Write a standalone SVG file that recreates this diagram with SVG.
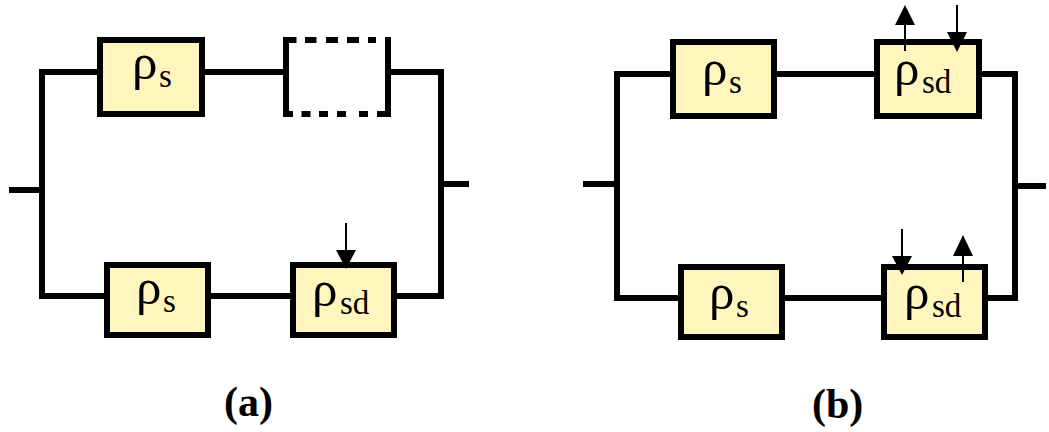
<svg xmlns="http://www.w3.org/2000/svg" width="1049" height="432" viewBox="0 0 1049 432">
<style>
.w{fill:none;stroke:#000;stroke-width:6}
.b{fill:#fff6be;stroke:#000;stroke-width:6}
.a{fill:none;stroke:#000;stroke-width:2}
.h{fill:#000}
text{font-family:"Liberation Serif","Times New Roman",serif;fill:#000}
.r{font-size:51px}
.s{font-size:33px}
.c{font-size:42px;font-weight:bold}
</style>
<rect width="1049" height="432" fill="#fff"/>
<g id="connectors">
<path class="w" d="M100 72H42V296H107M9 190H42"/>
<path class="w" d="M202 72H286M388 72H441V296H394M208 296H293M441 184H469"/>
<path class="w" d="M673 74H617V298H681M583 184H617"/>
<path class="w" d="M774 74H877M979 74H1015V298H985M782 298H884M1015 186H1046"/>
</g>
<g id="a-rs-top"><rect class="b" x="100" y="40" width="102" height="74"/><text class="r" x="132" y="79">ρ<tspan class="s" x="159" y="87">s</tspan></text></g>
<g id="a-empty">
<path class="w" d="M286 37V117M388 37V117"/>
<path class="w" stroke-dasharray="13.5 8.5 11.5 9.5 12 9 12 9 8 9 6" d="M283 40H391"/>
<path class="w" stroke-dasharray="10 8.5 9 8.5 9 9 9 13 9 9 12" d="M283 114H391"/>
</g>
<g id="a-rs-bottom"><rect class="b" x="107" y="265" width="101" height="70"/><text class="r" x="136" y="304">ρ<tspan class="s" x="163" y="312">s</tspan></text></g>
<g id="a-rsd"><rect class="b" x="293" y="265" width="101" height="70"/><text class="r" x="312" y="306">ρ<tspan class="s" x="340" y="314">sd</tspan></text>
<path class="a" d="M346 223V255"/><path class="h" d="M336 250H356L346 269Z"/></g>
<g id="b-rs-top"><rect class="b" x="673" y="42" width="101" height="74"/><text class="r" x="702" y="85">ρ<tspan class="s" x="729" y="93">s</tspan></text></g>
<g id="b-rsd-top"><rect class="b" x="877" y="42" width="102" height="74"/><text class="r" x="894" y="85">ρ<tspan class="s" x="922" y="93">sd</tspan></text>
<path class="a" d="M905 51V20"/><path class="h" d="M895 25H915L905 5Z"/>
<path class="a" d="M957 5V38"/><path class="h" d="M947 32H967L957 52Z"/></g>
<g id="b-rs-bottom"><rect class="b" x="681" y="267" width="101" height="70"/><text class="r" x="709" y="309">ρ<tspan class="s" x="736" y="317">s</tspan></text></g>
<g id="b-rsd-bottom"><rect class="b" x="884" y="267" width="101" height="70"/><text class="r" x="904" y="309">ρ<tspan class="s" x="932" y="317">sd</tspan></text>
<path class="a" d="M902 229V262"/><path class="h" d="M892 256H912L902 275Z"/>
<path class="a" d="M963 282V250"/><path class="h" d="M953 256H973L963 235Z"/></g>
<text class="c" x="224" y="416">(a)</text>
<text class="c" x="812" y="418">(b)</text>
</svg>
